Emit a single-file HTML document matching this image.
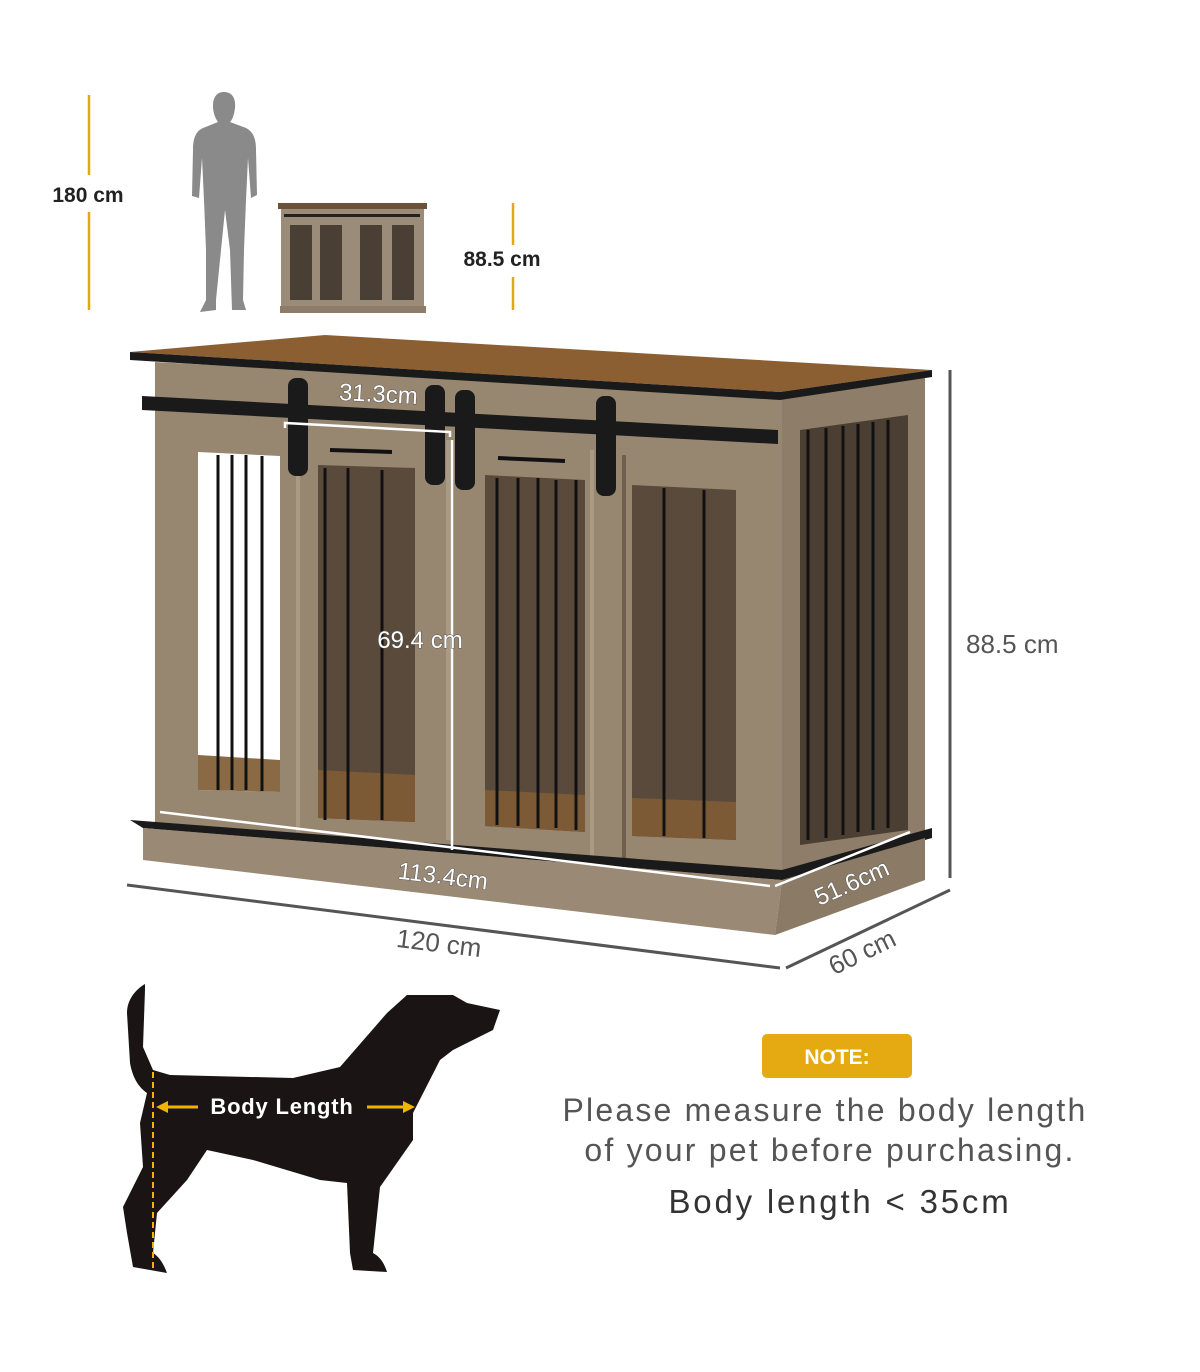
<!DOCTYPE html>
<html><head><meta charset="utf-8"><style>
html,body{margin:0;padding:0;background:#fff;}
svg{display:block}
</style></head><body>
<svg width="1200" height="1372" viewBox="0 0 1200 1372" xmlns="http://www.w3.org/2000/svg" font-family="Liberation Sans, sans-serif">
<rect width="1200" height="1372" fill="#fff"/>
<line x1="89" y1="95" x2="89" y2="175" stroke="#e0a812" stroke-width="2.5"/>
<line x1="89" y1="212" x2="89" y2="310" stroke="#e0a812" stroke-width="2.5"/>
<text x="88" y="202" font-size="21" font-weight="bold" text-anchor="middle" fill="#222">180 cm</text>
<path d="M224 92 C232 92 236 98 235 108 C234 116 232 120 230 122 L246 128 C254 132 256 140 256 150 L257 195 L251 198 L248 158 L246 200 L244 250 L243 300 L246 310 L232 310 L230 250 L225 210 L221 250 L216 300 L216 310 L200 312 L206 300 L206 250 L204 200 L202 158 L199 198 L192 196 L193 150 C193 138 196 131 203 128 L218 122 C215 118 213 112 213 106 C213 97 217 92 224 92 Z" fill="#8a8a8a"/>
<rect x="278" y="203" width="149" height="6" fill="#6b5238"/>
<rect x="281" y="209" width="143" height="98" fill="#9a8c78"/>
<rect x="290" y="225" width="22" height="75" fill="#4a3f34"/>
<rect x="320" y="225" width="22" height="75" fill="#4a3f34"/>
<rect x="360" y="225" width="22" height="75" fill="#4a3f34"/>
<rect x="392" y="225" width="22" height="75" fill="#4a3f34"/>
<rect x="284" y="214" width="136" height="3" fill="#222"/>
<rect x="280" y="306" width="146" height="7" fill="#8c7c68"/>
<line x1="513" y1="203" x2="513" y2="245" stroke="#e0a812" stroke-width="2.5"/>
<line x1="513" y1="277" x2="513" y2="310" stroke="#e0a812" stroke-width="2.5"/>
<text x="502" y="266" font-size="21" font-weight="bold" text-anchor="middle" fill="#222">88.5 cm</text>

<polygon points="782,395 925,378 925,835 782,880" fill="#8d7d69"/>
<polygon points="800,430 908,415 908,830 800,845" fill="#4b3e33"/>
<g stroke="#111" stroke-width="3">
<line x1="808" y1="430" x2="808" y2="840"/><line x1="826" y1="428" x2="826" y2="838"/><line x1="843" y1="426" x2="843" y2="835"/><line x1="858" y1="424" x2="858" y2="832"/><line x1="873" y1="422" x2="873" y2="830"/><line x1="888" y1="420" x2="888" y2="828"/>
</g>
<polygon points="155,362 782,395 782,880 155,832" fill="#978771"/>
<polygon points="198,452 280,456 280,792 198,790" fill="#fff"/>
<polygon points="198,755 280,760 280,792 198,790" fill="#8a6a44"/>
<polygon points="318,465 415,468 415,822 318,818" fill="#5a4a3c"/>
<polygon points="318,770 415,775 415,822 318,818" fill="#7d5a36"/>
<polygon points="485,475 585,480 585,832 485,826" fill="#5a4a3c"/>
<polygon points="485,790 585,795 585,832 485,826" fill="#7d5a36"/>
<polygon points="632,485 736,490 736,840 632,836" fill="#5a4a3c"/>
<polygon points="632,798 736,802 736,840 632,836" fill="#7d5a36"/>
<g stroke="#111" stroke-width="3">
<line x1="218" y1="455" x2="218" y2="790"/><line x1="232" y1="455" x2="232" y2="790"/><line x1="246" y1="455" x2="246" y2="790"/><line x1="262" y1="456" x2="262" y2="791"/>
<line x1="325" y1="468" x2="325" y2="820"/><line x1="348" y1="468" x2="348" y2="820"/><line x1="382" y1="470" x2="382" y2="820"/>
<line x1="497" y1="478" x2="497" y2="825"/><line x1="518" y1="478" x2="518" y2="826"/><line x1="538" y1="478" x2="538" y2="828"/><line x1="556" y1="480" x2="556" y2="828"/><line x1="576" y1="480" x2="576" y2="830"/>
<line x1="664" y1="488" x2="664" y2="836"/><line x1="704" y1="490" x2="704" y2="838"/>
</g>
<rect x="296" y="432" width="4" height="400" fill="#a99a84"/>
<rect x="446" y="440" width="4" height="400" fill="#a99a84"/>
<rect x="590" y="450" width="4" height="410" fill="#a99a84"/>
<rect x="622" y="455" width="4" height="410" fill="#6e5f4f"/>
<line x1="330" y1="450" x2="392" y2="452" stroke="#111" stroke-width="4"/>
<line x1="498" y1="458" x2="565" y2="461" stroke="#111" stroke-width="4"/>
<polygon points="130,352 325,335 932,370 780,392" fill="#8c5f32"/>
<polygon points="130,352 780,392 780,400 130,360" fill="#1a1a1a"/>
<polygon points="780,392 932,370 932,377 780,400" fill="#1a1a1a"/>
<polygon points="142,396 778,430 778,444 142,410" fill="#1a1a1a"/>
<g fill="#1a1a1a">
<rect x="288" y="378" width="20" height="98" rx="8"/>
<rect x="425" y="385" width="20" height="100" rx="8"/>
<rect x="455" y="390" width="20" height="100" rx="8"/>
<rect x="596" y="396" width="20" height="100" rx="8"/>
</g>
<polygon points="130,820 782,870 782,880 143,828" fill="#1a1a1a"/>
<polygon points="782,870 932,828 932,838 782,880" fill="#1a1a1a"/>
<polygon points="143,828 782,880 775,935 143,860" fill="#9a8a75"/>
<polygon points="782,880 925,838 925,880 775,935" fill="#8a7a66"/>
<g stroke="#fff" stroke-width="2.5" fill="none">
<polyline points="285,428 285,423 450,432 450,437"/>
<line x1="452" y1="440" x2="452" y2="850"/>
<line x1="160" y1="812" x2="770" y2="886"/>
<line x1="775" y1="886" x2="910" y2="832"/>
</g>
<g font-size="24" fill="#fff" stroke="#555" stroke-width="1" paint-order="stroke">
<text x="378" y="402" text-anchor="middle" transform="rotate(3 378 402)">31.3cm</text>
<text x="420" y="648" text-anchor="middle">69.4 cm</text>
<text x="442" y="884" text-anchor="middle" transform="rotate(7 442 884)">113.4cm</text>
<text x="855" y="890" text-anchor="middle" transform="rotate(-24 855 890)">51.6cm</text>
</g>
<line x1="127" y1="885" x2="780" y2="968" stroke="#555" stroke-width="3"/>
<line x1="786" y1="968" x2="950" y2="890" stroke="#555" stroke-width="3"/>
<line x1="950" y1="370" x2="950" y2="878" stroke="#555" stroke-width="3"/>
<text x="438" y="952" font-size="26" fill="#555" text-anchor="middle" transform="rotate(7 438 952)">120 cm</text>
<text x="866" y="960" font-size="26" fill="#555" text-anchor="middle" transform="rotate(-26 866 960)">60 cm</text>
<text x="966" y="653" font-size="26" fill="#555">88.5 cm</text>

<path d="M145 984 C135 990 127 1000 127 1013 L130 1063 C133 1080 140 1088 147 1093 L140 1123 L143 1167 L123 1207 L127 1233 L133 1267 L167 1273 C163 1262 158 1256 153 1253 L157 1213 L187 1180 L207 1150 L253 1160 L320 1180 L347 1183 L350 1253 L353 1270 L387 1272 C384 1262 379 1256 373 1253 L380 1187 L413 1140 L413 1113 L440 1060 L453 1050 L493 1030 L500 1010 L467 1003 L453 995 L407 995 L387 1013 L340 1067 L293 1078 L170 1075 L153 1070 L143 1047 L145 990 Z" fill="#1a1414"/>
<line x1="153" y1="1072" x2="153" y2="1272" stroke="#f0b400" stroke-width="2" stroke-dasharray="6,4"/>
<g stroke="#f0b400" stroke-width="3" fill="#f0b400">
<line x1="165" y1="1107" x2="198" y2="1107"/>
<polygon points="156,1107 168,1101 168,1113" stroke="none"/>
<line x1="367" y1="1107" x2="404" y2="1107"/>
<polygon points="415,1107 403,1101 403,1113" stroke="none"/>
</g>
<text x="282" y="1114" font-size="22" font-weight="bold" fill="#fff" text-anchor="middle" letter-spacing="0.8">Body Length</text>

<rect x="762" y="1034" width="150" height="44" rx="5" fill="#e5a912"/>
<text x="837" y="1064" font-size="21" font-weight="bold" fill="#fff" text-anchor="middle">NOTE:</text>
<text x="825" y="1121" font-size="32" fill="#555" text-anchor="middle" letter-spacing="2.2">Please measure the body length</text>
<text x="830" y="1161" font-size="32" fill="#555" text-anchor="middle" letter-spacing="2.2">of your pet before purchasing.</text>
<text x="840" y="1213" font-size="33" fill="#333" text-anchor="middle" letter-spacing="2.8">Body length &lt; 35cm</text>
</svg>
</body></html>
